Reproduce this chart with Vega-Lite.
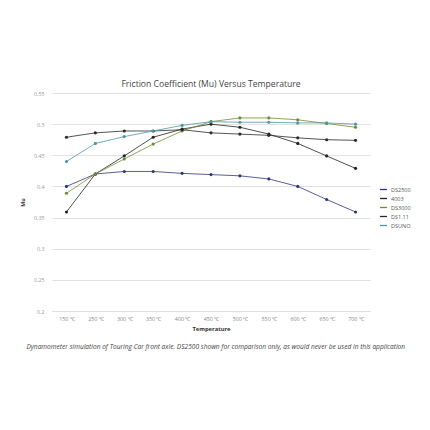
{
  "$schema": "https://vega.github.io/schema/vega-lite/v6.json",
  "description": "Friction coefficient versus temperature for five pad compounds",
  "background": "white",
  "padding": {"left": 20, "top": 80, "right": 5, "bottom": 5},
  "title": {
    "text": "Dynamometer simulation of Touring Car front axle. DS2500 shown for comparison only, as would never be used in this application",
    "orient": "bottom",
    "anchor": "middle",
    "fontSize": 6.6,
    "fontStyle": "italic",
    "fontWeight": "normal",
    "font": "Open Sans",
    "color": "#444",
    "offset": 13
  },
  "config": {
    "view": {"stroke": null},
    "font": "Open Sans"
  },
  "vconcat": [
    {
      "width": 318,
      "height": 218,
      "title": {
        "text": "Friction Coefficient (Mu) Versus Temperature",
        "fontSize": 8.6,
        "fontWeight": "normal",
        "font": "Open Sans",
        "color": "#444",
        "anchor": "middle",
        "offset": 2
      },
      "data": {
        "values": [
          {"temp": "150 ℃", "series": "DS2500", "mu": 0.40},
          {"temp": "250 ℃", "series": "DS2500", "mu": 0.42},
          {"temp": "300 ℃", "series": "DS2500", "mu": 0.424},
          {"temp": "350 ℃", "series": "DS2500", "mu": 0.424},
          {"temp": "400 ℃", "series": "DS2500", "mu": 0.421},
          {"temp": "450 ℃", "series": "DS2500", "mu": 0.419},
          {"temp": "500 ℃", "series": "DS2500", "mu": 0.417},
          {"temp": "550 ℃", "series": "DS2500", "mu": 0.412},
          {"temp": "600 ℃", "series": "DS2500", "mu": 0.40},
          {"temp": "650 ℃", "series": "DS2500", "mu": 0.379},
          {"temp": "700 ℃", "series": "DS2500", "mu": 0.359},
          {"temp": "150 ℃", "series": "4003", "mu": 0.359},
          {"temp": "250 ℃", "series": "4003", "mu": 0.42},
          {"temp": "300 ℃", "series": "4003", "mu": 0.449},
          {"temp": "350 ℃", "series": "4003", "mu": 0.479},
          {"temp": "400 ℃", "series": "4003", "mu": 0.492},
          {"temp": "450 ℃", "series": "4003", "mu": 0.50},
          {"temp": "500 ℃", "series": "4003", "mu": 0.495},
          {"temp": "550 ℃", "series": "4003", "mu": 0.484},
          {"temp": "600 ℃", "series": "4003", "mu": 0.469},
          {"temp": "650 ℃", "series": "4003", "mu": 0.449},
          {"temp": "700 ℃", "series": "4003", "mu": 0.429},
          {"temp": "150 ℃", "series": "DS3000", "mu": 0.389},
          {"temp": "250 ℃", "series": "DS3000", "mu": 0.42},
          {"temp": "300 ℃", "series": "DS3000", "mu": 0.444},
          {"temp": "350 ℃", "series": "DS3000", "mu": 0.468},
          {"temp": "400 ℃", "series": "DS3000", "mu": 0.489},
          {"temp": "450 ℃", "series": "DS3000", "mu": 0.504},
          {"temp": "500 ℃", "series": "DS3000", "mu": 0.51},
          {"temp": "550 ℃", "series": "DS3000", "mu": 0.51},
          {"temp": "600 ℃", "series": "DS3000", "mu": 0.507},
          {"temp": "650 ℃", "series": "DS3000", "mu": 0.501},
          {"temp": "700 ℃", "series": "DS3000", "mu": 0.495},
          {"temp": "150 ℃", "series": "DS1.11", "mu": 0.479},
          {"temp": "250 ℃", "series": "DS1.11", "mu": 0.486},
          {"temp": "300 ℃", "series": "DS1.11", "mu": 0.489},
          {"temp": "350 ℃", "series": "DS1.11", "mu": 0.489},
          {"temp": "400 ℃", "series": "DS1.11", "mu": 0.491},
          {"temp": "450 ℃", "series": "DS1.11", "mu": 0.486},
          {"temp": "500 ℃", "series": "DS1.11", "mu": 0.484},
          {"temp": "550 ℃", "series": "DS1.11", "mu": 0.482},
          {"temp": "600 ℃", "series": "DS1.11", "mu": 0.478},
          {"temp": "650 ℃", "series": "DS1.11", "mu": 0.475},
          {"temp": "700 ℃", "series": "DS1.11", "mu": 0.474},
          {"temp": "150 ℃", "series": "DSUNO", "mu": 0.44},
          {"temp": "250 ℃", "series": "DSUNO", "mu": 0.469},
          {"temp": "300 ℃", "series": "DSUNO", "mu": 0.48},
          {"temp": "350 ℃", "series": "DSUNO", "mu": 0.489},
          {"temp": "400 ℃", "series": "DSUNO", "mu": 0.498},
          {"temp": "450 ℃", "series": "DSUNO", "mu": 0.504},
          {"temp": "500 ℃", "series": "DSUNO", "mu": 0.503},
          {"temp": "550 ℃", "series": "DSUNO", "mu": 0.503},
          {"temp": "600 ℃", "series": "DSUNO", "mu": 0.502},
          {"temp": "650 ℃", "series": "DSUNO", "mu": 0.502},
          {"temp": "700 ℃", "series": "DSUNO", "mu": 0.50}
        ]
      },
      "encoding": {
        "x": {
          "field": "temp",
          "type": "ordinal",
          "sort": null,
          "scale": {"type": "point", "padding": 0.5},
          "axis": {
            "title": "Temperature",
            "titleFontSize": 5.8,
            "titleFontWeight": "bold",
            "titleColor": "#333",
            "titlePadding": 4,
            "labelAngle": 0,
            "labelFontSize": 5.3,
            "labelColor": "#888",
            "labelPadding": 5,
            "ticks": false,
            "domain": true,
            "domainColor": "#ddd",
            "domainWidth": 1,
            "grid": false
          }
        },
        "y": {
          "field": "mu",
          "type": "quantitative",
          "scale": {"domain": [0.2, 0.55], "nice": false, "zero": false},
          "axis": {
            "title": "Mu",
            "titleFontSize": 5.3,
            "titleFontWeight": "bold",
            "titleColor": "#333",
            "titlePadding": 8,
            "values": [0.2, 0.25, 0.3, 0.35, 0.4, 0.45, 0.5, 0.55],
            "format": ".2~f",
            "labelFontSize": 5.3,
            "labelColor": "#999",
            "labelPadding": 8,
            "ticks": false,
            "domain": false,
            "grid": true,
            "gridColor": "#e2e2e2",
            "gridWidth": 1
          }
        },
        "color": {
          "field": "series",
          "type": "nominal",
          "sort": ["DS2500", "4003", "DS3000", "DS1.11", "DSUNO"],
          "scale": {
            "domain": ["DS2500", "4003", "DS3000", "DS1.11", "DSUNO"],
            "range": ["#2f3580", "#222222", "#6f8f2f", "#2a2a2a", "#4f97a6"]
          },
          "legend": {
            "title": null,
            "orient": "none",
            "legendX": 327,
            "legendY": 92,
            "labelFontSize": 5.5,
            "labelColor": "#555",
            "rowPadding": 1,
            "labelOffset": 3,
            "symbolType": "stroke",
            "symbolSize": 50,
            "symbolStrokeWidth": 1.3
          }
        }
      },
      "layer": [
        {
          "mark": {"type": "line", "strokeWidth": 0.8}
        },
        {
          "mark": {"type": "point", "filled": true, "size": 10, "opacity": 1, "shape": "circle"}
        }
      ]
    }
  ]
}
